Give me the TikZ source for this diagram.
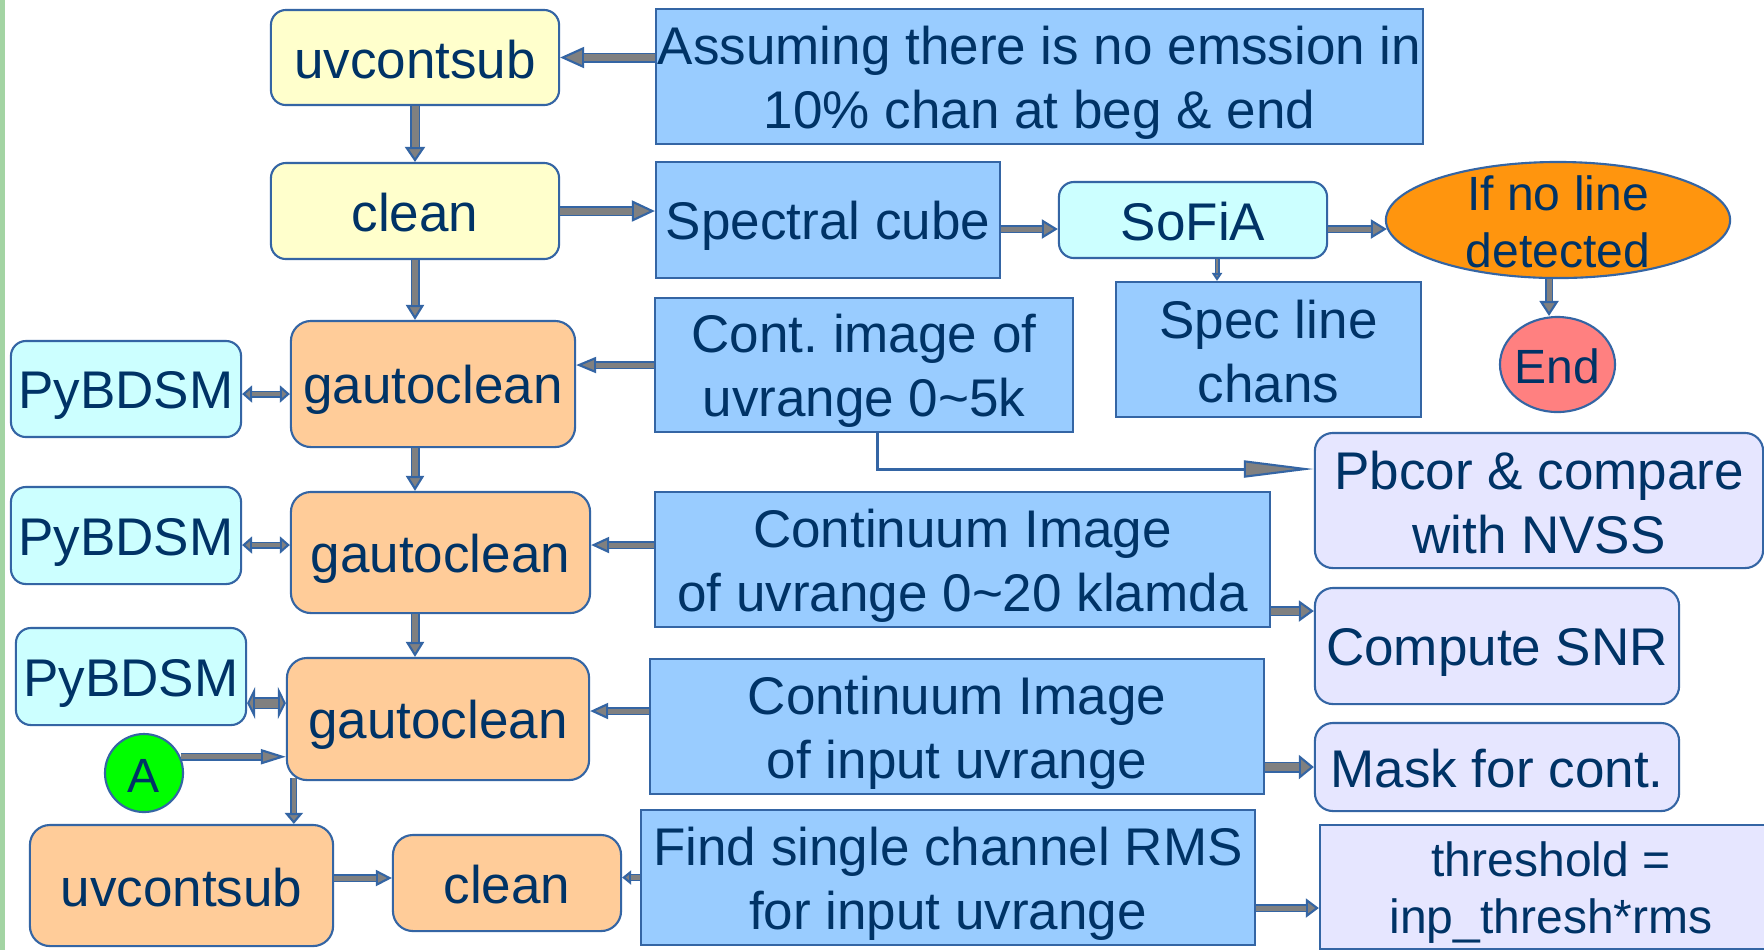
\documentclass[tikz,border=0pt]{standalone}
\usepackage{fontspec}
\setmainfont{Liberation Sans}
\usetikzlibrary{arrows.meta,shapes.geometric,calc}
\definecolor{txt}{RGB}{0,51,102}
\definecolor{bordercol}{HTML}{3465A4}
\definecolor{arrowgray}{HTML}{808080}
\definecolor{yellowfill}{HTML}{FFFFCC}
\definecolor{cyanfill}{HTML}{CCFFFF}
\definecolor{orangefill}{HTML}{FFCC99}
\definecolor{bluefill}{HTML}{99CCFF}
\definecolor{lavfill}{HTML}{E6E6FF}
\definecolor{ellfill}{HTML}{FF950E}
\definecolor{endfill}{HTML}{FF8080}
\definecolor{afill}{HTML}{00FF00}
\definecolor{leftgreen}{HTML}{A3D4A3}
\newcommand\bigf{\fontsize{15.08pt}{18.2pt}\selectfont}
\newcommand\smallf{\fontsize{13.66pt}{16.2pt}\selectfont}
\newcommand\nst{\rule[-0.16em]{0pt}{1.11em}}
\frenchspacing
\begin{document}
\begin{tikzpicture}[x=0.01cm, y=-0.01cm,
  every node/.style={text=txt, inner sep=0pt, align=center, draw=bordercol, line width=0.6pt, font=\bigf, execute at begin node=\nst, execute at end node=\nst},
  yellowbox/.style={rectangle, rounded corners=0.15cm, fill=yellowfill},
  orangebox/.style={rectangle, rounded corners=0.2cm, fill=orangefill},
  cyanbox/.style={rectangle, rounded corners=0.15cm, fill=cyanfill},
  bluebox/.style={rectangle, fill=bluefill},
  lavbox/.style={rectangle, rounded corners=0.18cm, fill=lavfill},
  lavrect/.style={rectangle, fill=lavfill},
  barr/.style n args={4}{draw=bordercol, line width=#1, -{Triangle[length=#3, width=#4, fill=arrowgray, line width=0.6pt]}, postaction={draw=arrowgray, line width=#2, -, shorten >=#3}},
  bdarr/.style n args={4}{draw=bordercol, line width=#1, {Triangle[length=#3, width=#4, fill=arrowgray, line width=0.6pt]}-{Triangle[length=#3, width=#4, fill=arrowgray, line width=0.6pt]}, postaction={draw=arrowgray, line width=#2, -, shorten >=#3, shorten <=#3}},
  thinarr/.style={draw=bordercol, line width=0.03cm, -{Triangle[length=0.70cm, width=0.17cm, fill=arrowgray, line width=0.6pt]}}
]
\fill[white] (0,0) rectangle (1764,950);
\useasboundingbox (0,0) rectangle (1764,950);
\fill[leftgreen] (0,0) rectangle (5,950);

% nodes
\node[yellowbox, minimum width=2.88cm, minimum height=0.95cm] (uv1) at (415,57.5) {uvcontsub};
\node[yellowbox, minimum width=2.88cm, minimum height=0.96cm] (clean1) at (415,211) {clean};
\node[bluebox, minimum width=7.67cm, minimum height=1.35cm] (assume) at (1039.5,76.5) {\nst Assuming there is no emssion in\\10\% chan at beg \& end\nst};
\node[bluebox, minimum width=3.44cm, minimum height=1.16cm] (spec) at (828,220) {Spectral cube};
\node[cyanbox, minimum width=2.68cm, minimum height=0.76cm] (sofia) at (1193,220) {SoFiA};
\node[ellipse, fill=ellfill, font=\smallf, inner ysep=-0.3cm, minimum width=3.44cm, minimum height=1.16cm] (ifno) at (1558,220) {\nst If no line\\detected\nst};
\node[bluebox, minimum width=3.05cm, minimum height=1.35cm] (specline) at (1268.5,349.5) {\nst Spec line\\chans\nst};
\node[ellipse, fill=endfill, font=\smallf, inner xsep=-0.03cm, minimum width=1.15cm, minimum height=0.95cm] (endn) at (1557.5,364.5) {End};
\node[bluebox, minimum width=4.18cm, minimum height=1.34cm] (cont1) at (864,365) {\nst Cont. image of\\uvrange 0\textasciitilde5k\nst};
\node[lavbox, minimum width=4.48cm, minimum height=1.35cm] (pbcor) at (1539,500.5) {\nst Pbcor \& compare\\with NVSS\nst};
\node[orangebox, minimum width=2.84cm, minimum height=1.26cm] (g1) at (433,384) {gautoclean};
\node[cyanbox, minimum width=2.30cm, minimum height=0.96cm] (py1) at (126,389) {PyBDSM};
\node[orangebox, minimum width=2.99cm, minimum height=1.21cm] (g2) at (440.5,552.5) {gautoclean};
\node[cyanbox, minimum width=2.30cm, minimum height=0.97cm] (py2) at (126,535.5) {PyBDSM};
\node[bluebox, minimum width=6.15cm, minimum height=1.35cm] (cont2) at (962.5,559.5) {\nst Continuum Image\\of uvrange 0\textasciitilde20 klamda\nst};
\node[lavbox, minimum width=3.64cm, minimum height=1.16cm] (snr) at (1497,646) {Compute SNR};
\node[lavbox, minimum width=3.64cm, minimum height=0.88cm] (mask) at (1497,767) {Mask for cont.};
\node[bluebox, minimum width=6.14cm, minimum height=1.35cm] (cont3) at (957,726.5) {\nst Continuum Image\\of input uvrange\nst};
\node[orangebox, minimum width=3.02cm, minimum height=1.22cm] (g3) at (438,719) {gautoclean};
\node[cyanbox, minimum width=2.30cm, minimum height=0.97cm] (py3) at (131,676.5) {PyBDSM};
\node[circle, fill=afill, font=\smallf, minimum size=0.78cm] (A) at (144,773) {A};
\node[orangebox, minimum width=3.03cm, minimum height=1.21cm] (uv2) at (181.5,885.5) {uvcontsub};
\node[orangebox, minimum width=2.28cm, minimum height=0.96cm] (clean2) at (507,883) {clean};
\node[bluebox, minimum width=6.14cm, minimum height=1.35cm] (find) at (948,877.5) {\nst Find single channel RMS\\for input uvrange\nst};
\node[lavrect, font=\smallf, minimum width=4.62cm, minimum height=1.24cm] (thresh) at (1551,887) {\nst threshold =\\inp\_thresh*rms\nst};

% connectors
\draw[barr={0.10cm}{0.07cm}{0.24cm}{0.21cm}] (assume.west |- uv1.east) -- (uv1.east);
\draw[barr={0.10cm}{0.07cm}{0.15cm}{0.20cm}] (uv1.south) -- (clean1.north);
\draw[barr={0.10cm}{0.07cm}{0.23cm}{0.21cm}] (clean1.east) -- (clean1.east -| spec.west);
\draw[barr={0.08cm}{0.05cm}{0.16cm}{0.19cm}] ($(spec.east)+(0,9)$) -- ($(sofia.west)+(0,9)$);
\draw[barr={0.08cm}{0.05cm}{0.16cm}{0.19cm}] ($(sofia.east)+(0,9)$) -- ($(ifno.west)+(2,9)$);
\coordinate (s1) at ($(sofia.south)+(24,0)$);
\draw[barr={0.05cm}{0.025cm}{0.08cm}{0.10cm}] (s1) -- (s1 |- specline.north);
\coordinate (e1) at ($(ifno.south)+(-9,0)$);
\draw[barr={0.08cm}{0.05cm}{0.15cm}{0.19cm}] (e1) -- (e1 |- endn.north);
\draw[barr={0.08cm}{0.05cm}{0.20cm}{0.16cm}] (cont1.west) -- (cont1.west -| g1.east);
\draw[thinarr] ($(cont1.south)+(13,0)$) |- ($(pbcor.west)+(0,-31.5)$);
\draw[barr={0.09cm}{0.06cm}{0.15cm}{0.18cm}] (clean1.south) -- (clean1.south |- g1.north);
\draw[bdarr={0.07cm}{0.045cm}{0.10cm}{0.17cm}] ($(py1.east)+(0,5)$) -- ($(g1.west)+(0,10)$);
\draw[barr={0.09cm}{0.06cm}{0.15cm}{0.18cm}] (clean1.south |- g1.south) -- (clean1.south |- g2.north);
\draw[bdarr={0.07cm}{0.045cm}{0.10cm}{0.17cm}] ($(py2.east)+(0,9.5)$) -- ($(g2.west)+(0,-7.5)$);
\draw[barr={0.08cm}{0.05cm}{0.18cm}{0.16cm}] ($(cont2.west)+(0,-14.5)$) -- ($(g2.east)+(0,-7.5)$);
\draw[barr={0.10cm}{0.07cm}{0.15cm}{0.21cm}] ($(cont2.east)+(0,51.5)$) -- ($(snr.west)+(0,-35)$);
\draw[barr={0.09cm}{0.06cm}{0.15cm}{0.18cm}] (clean1.south |- g2.south) -- (clean1.south |- g3.north);
\draw[bdarr={0.12cm}{0.09cm}{0.08cm}{0.32cm}] ($(py3.east)+(0,26.5)$) -- ($(g3.west)+(0,-16)$);
\draw[barr={0.08cm}{0.05cm}{0.18cm}{0.16cm}] ($(cont3.west)+(0,-15.5)$) -- ($(g3.east)+(0,-8)$);
\draw[barr={0.11cm}{0.08cm}{0.15cm}{0.24cm}] ($(cont3.east)+(0,40.5)$) -- (mask.west);
\draw[barr={0.08cm}{0.05cm}{0.25cm}{0.15cm}] (A.24) -- (A.24 -| g3.west);
\coordinate (g3a) at ($(g3.south west)+(8,-3)$);
\draw[barr={0.07cm}{0.045cm}{0.11cm}{0.18cm}] (g3a) -- (g3a |- uv2.north);
\draw[barr={0.08cm}{0.05cm}{0.16cm}{0.16cm}] ($(uv2.east)+(0,-7.5)$) -- ($(clean2.west)+(0,-5)$);
\draw[barr={0.07cm}{0.045cm}{0.09cm}{0.14cm}] (find.west) -- (find.west -| clean2.east);
\draw[barr={0.08cm}{0.05cm}{0.13cm}{0.19cm}] ($(find.east)+(0,30.5)$) -- ($(thresh.west)+(0,21)$);
\end{tikzpicture}
\end{document}
